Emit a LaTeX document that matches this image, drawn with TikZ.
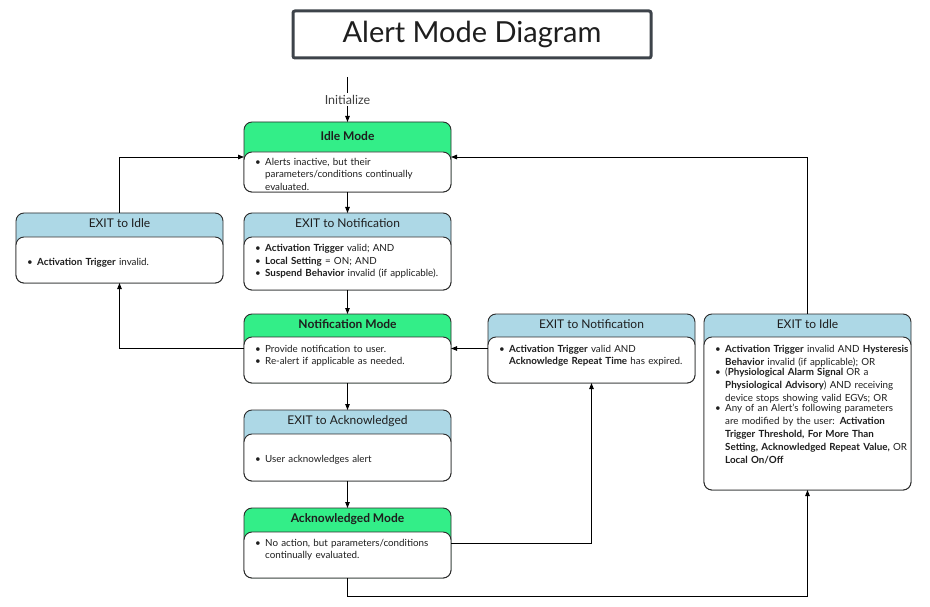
\documentclass[tikz,border=0pt]{standalone}
\usepackage{fontspec}
\setmainfont{Lato}
\usetikzlibrary{arrows.meta}
\definecolor{hdgreen}{HTML}{33EE88}
\definecolor{hdblue}{HTML}{ADD8E6}
\definecolor{edgecol}{HTML}{2B2B2B}
\definecolor{titleedge}{HTML}{3D434A}
\definecolor{txtcol}{HTML}{1E1E1E}
\newcommand\bul[1]{\par\noindent\makebox[10pt][l]{\textbullet}\parbox[t]{195pt}{\raggedright #1}}
\begin{document}
\begin{tikzpicture}[x=1pt,y=-1pt,
  outer/.style={draw=edgecol,line width=0.9pt,rounded corners=8pt,inner sep=0pt,outer sep=0pt,anchor=north west,minimum width=207pt},
  ttl/.style={anchor=mid,inner sep=0pt,text=txtcol,font=\fontsize{12}{14}\selectfont},
  bodytxt/.style={anchor=north west,inner sep=0pt,text width=205pt,text=txtcol,font=\fontsize{9.8}{12.6}\selectfont},
  arr/.style={draw=black,line width=0.9pt,-{Triangle[length=6pt,width=4.5pt]}}
]
\useasboundingbox (0,0) rectangle (930,607);

% Title
\node[draw=titleedge,line width=3pt,rounded corners=2pt,minimum width=358pt,minimum height=47pt,anchor=north west,inner sep=0pt,font=\fontsize{29}{33}\selectfont,text=txtcol] (title) at (291.5,9.5) {Alert Mode Diagram};

% Idle Mode
\node[outer,fill=hdgreen,minimum height=70pt] (idle) at (244,122) {};
\node[outer,fill=white,minimum height=40pt] (idleb) at (244,152) {};
\node[ttl,font=\bfseries\fontsize{12}{14}\selectfont] (idlet) at (347.5,137.5) {Idle Mode};
\node[bodytxt] (idlex) at (255,152.5) {\bul{Alerts inactive, but their\\ parameters/conditions continually\\ evaluated.}};

% EXIT to Notification (center)
\node[outer,fill=hdblue,minimum height=77pt] (exn) at (244,213) {};
\node[outer,fill=white,minimum height=53pt] (exnb) at (244,237) {};
\node[ttl] (exnt) at (347.5,225) {EXIT to Notification};
\node[bodytxt] (exnx) at (255,239) {\bul{\textbf{Activation Trigger} valid; AND}\bul{\textbf{Local Setting} = ON; AND}\bul{\textbf{Suspend Behavior} invalid (if applicable).}};

% EXIT to Idle (left)
\node[outer,fill=hdblue,minimum height=70pt] (exi) at (16,213) {};
\node[outer,fill=white,minimum height=46pt] (exib) at (16,237) {};
\node[ttl] (exit) at (119.5,225) {EXIT to Idle};
\node[bodytxt] (exix) at (27,252.5) {\bul{\textbf{Activation Trigger} invalid.}};

% Notification Mode
\node[outer,fill=hdgreen,minimum height=69pt] (notif) at (244,314) {};
\node[outer,fill=white,minimum height=46pt] (notifb) at (244,337) {};
\node[ttl,font=\bfseries\fontsize{12}{14}\selectfont] (notift) at (347.5,325.5) {Notification Mode};
\node[bodytxt] (notifx) at (255,339.5) {\bul{Provide notification to user.}\bul{Re-alert if applicable as needed.}};

% EXIT to Notification (right)
\node[outer,fill=hdblue,minimum height=69pt] (exnr) at (488,314) {};
\node[outer,fill=white,minimum height=46pt] (exnrb) at (488,337) {};
\node[ttl] (exnrt) at (591.5,325.5) {EXIT to Notification};
\node[bodytxt] (exnrx) at (499,339.5) {\bul{\textbf{Activation Trigger} valid AND\\ \textbf{Acknowledge Repeat Time} has expired.}};

% EXIT to Idle (right)
\node[outer,fill=hdblue,minimum height=176pt] (exir) at (704,314) {};
\node[outer,fill=white,minimum height=153pt] (exirb) at (704,337) {};
\node[ttl] (exirt) at (807.5,325.5) {EXIT to Idle};
\node[bodytxt,font=\fontsize{9.8}{12.9}\selectfont] (exirx) at (715,339.5) {\bul{\textbf{Activation Trigger} invalid AND \textbf{Hysteresis}\\ \textbf{Behavior} invalid (if applicable); OR}\bul{(\textbf{Physiological Alarm Signal} OR a\\ \textbf{Physiological Advisory}) AND receiving\\ device stops showing valid EGVs; OR}\bul{Any of an Alert's following parameters\\ are modified by the user: \textbf{Activation}\\ \textbf{Trigger Threshold, For More Than}\\ \textbf{Setting, Acknowledged Repeat Value,} OR\\ \textbf{Local On/Off}}};

% EXIT to Acknowledged
\node[outer,fill=hdblue,minimum height=71pt] (exa) at (244,410) {};
\node[outer,fill=white,minimum height=47pt] (exab) at (244,434) {};
\node[ttl] (exat) at (347.5,422) {EXIT to Acknowledged};
\node[bodytxt] (exax) at (255,449.5) {\bul{User acknowledges alert}};

% Acknowledged Mode
\node[outer,fill=hdgreen,minimum height=70pt] (ack) at (244,508) {};
\node[outer,fill=white,minimum height=46pt] (ackb) at (244,532) {};
\node[ttl,font=\bfseries\fontsize{12}{14}\selectfont] (ackt) at (347.5,520) {Acknowledged Mode};
\node[bodytxt] (ackx) at (255,533.5) {\bul{No action, but parameters/conditions\\ continually evaluated.}};

% Connectors
\coordinate (init) at (347.5,77);
\draw[arr] (init) -- node[fill=white,inner sep=1.5pt,text=txtcol!85,font=\fontsize{12.5}{14}\selectfont] (initl) {Initialize} (idle.north);
\draw[arr] (idle.south) -- (exn.north);
\draw[arr] (exn.south) -- (notif.north);
\draw[arr] (notif.south) -- (exa.north);
\draw[arr] (exa.south) -- (ack.north);
\draw[arr] (notif.west) -| (exi.south);
\draw[arr] (exi.north) |- (idle.west);
\draw[arr] (exnr.west) -- (notif.east);
\draw[arr] (ack.east) -| (exnr.south);
\coordinate (ackdown) at (347.5,596);
\draw[arr] (ack.south) -- (ackdown) -| (exir.south);
\draw[arr] (exir.north) |- (idle.east);
\end{tikzpicture}
\end{document}
